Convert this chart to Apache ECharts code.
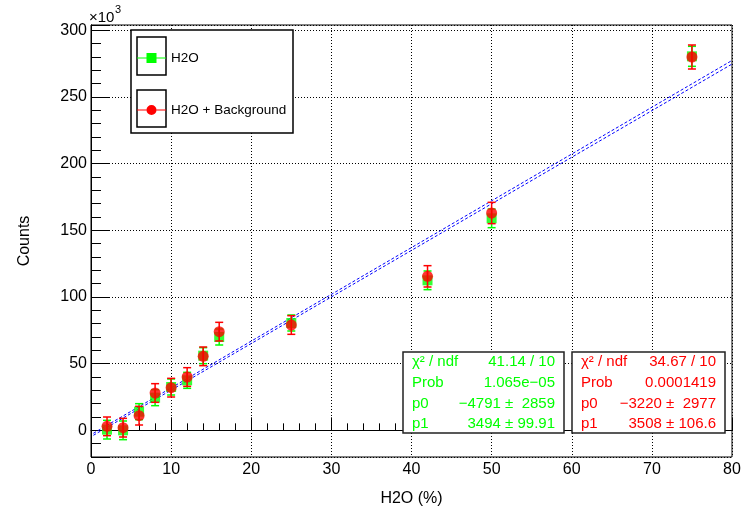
<!DOCTYPE html>
<html>
<head>
<meta charset="utf-8">
<script src="https://cdn.jsdelivr.net/npm/echarts@6/dist/echarts.min.js"></script>
<style>
  html, body { margin: 0; padding: 0; background: #fff; }
  #chart { width: 755px; height: 516px; }
</style>
</head>
<body>
<div id="chart"></div>
<script>
  // values (counts in units of 10^3)
  var waterPct = [2, 4, 6, 8, 10, 12, 14, 16, 25, 42, 50, 75];
  var h2oCounts = [0.5, 0, 14, 24.5, 32.5, 37.5, 56, 70, 80.5, 112.5, 159, 280.5];
  var h2oErr = [7, 7, 6, 6, 6, 6, 6, 6, 6, 7, 7, 7.5];
  var bgCounts = [3, 2, 11, 28, 32, 40, 55.5, 74, 79, 115.5, 163, 280];
  var bgErr = [7, 7, 7, 7, 7, 7, 7, 7, 7, 8, 8, 9];

  // fit lines, endpoints
  var fitX = [0.3, 80];
  var h2oFitY = [-3.7, 274.7];
  var bgFitY = [-2.2, 277.4];

  var yMajorTicks = [0, 50, 100, 150, 200, 250, 300];

  var h2oStats = [['χ² / ndf', '41.14 / 10'], ['Prob', '1.065e−05'],
                  ['p0', '−4791 ±  2859'], ['p1', '3494 ± 99.91']];
  var bgStats = [['χ² / ndf', '34.67 / 10'], ['Prob', '0.0001419'],
                 ['p0', '−3220 ±  2977'], ['p1', '3508 ± 106.6']];

  var FONT = '"Liberation Sans", Arial, Helvetica, sans-serif';
  var GREEN = '#00ff00';
  var RED = '#ff0000';

  function zip3(xs, ys, es) {
    return xs.map(function (x, i) { return [x, ys[i], es[i]]; });
  }

  function errBars(color) {
    return function (params, api) {
      var x = api.value(0), y = api.value(1), e = api.value(2);
      var top = api.coord([x, y + e]);
      var bot = api.coord([x, y - e]);
      var c = 4;
      var st = { stroke: color, lineWidth: 1.5 };
      return {
        type: 'group',
        children: [
          { type: 'line', shape: { x1: top[0], y1: top[1], x2: bot[0], y2: bot[1] }, style: st },
          { type: 'line', shape: { x1: top[0] - c, y1: top[1], x2: top[0] + c, y2: top[1] }, style: st },
          { type: 'line', shape: { x1: bot[0] - c, y1: bot[1], x2: bot[0] + c, y2: bot[1] }, style: st }
        ]
      };
    };
  }

  function statBox(x, w, rows, color) {
    var els = [{
      type: 'rect', z: 10,
      shape: { x: x, y: 352, width: w, height: 81 },
      style: { fill: '#fff', stroke: '#222', lineWidth: 1.5 }
    }];
    rows.forEach(function (r, i) {
      var y = 362 + i * 20.7;
      els.push({ type: 'text', z: 11, style: { text: r[0], x: x + 9, y: y, fill: color, font: '15px ' + FONT, align: 'left', verticalAlign: 'middle' } });
      els.push({ type: 'text', z: 11, style: { text: r[1], x: x + w - 9, y: y, fill: color, font: '15px ' + FONT, align: 'right', verticalAlign: 'middle' } });
    });
    return els;
  }

  var chart = echarts.init(document.getElementById('chart'));

  var graphics = [
    { type: 'rect', z: 3, shape: { x: 131, y: 30, width: 162, height: 103 },
      style: { fill: '#fff', stroke: '#000', lineWidth: 1.5 } },
    { type: 'rect', z: 3, shape: { x: 137, y: 37, width: 29, height: 38 },
      style: { fill: 'none', stroke: '#000', lineWidth: 1.5 } },
    { type: 'rect', z: 3, shape: { x: 137, y: 90, width: 29, height: 37 },
      style: { fill: 'none', stroke: '#000', lineWidth: 1.5 } },
    { type: 'text', z: 3, style: { text: '×10', x: 89, y: 18, fill: '#000', font: '15px ' + FONT, align: 'left', verticalAlign: 'middle' } },
    { type: 'text', z: 3, style: { text: '3', x: 115, y: 10, fill: '#000', font: '11px ' + FONT, align: 'left', verticalAlign: 'middle' } }
  ].concat(statBox(403, 161, h2oStats, GREEN), statBox(572, 153, bgStats, RED));

  chart.setOption({
    backgroundColor: '#fff',
    animation: false,
    textStyle: { fontFamily: FONT },
    grid: { left: 91, right: 23, top: 25, bottom: 59, show: true, borderColor: '#000', borderWidth: 1 },
    legend: {
      orient: 'vertical',
      left: 137,
      top: 51,
      padding: 0,
      itemWidth: 29,
      itemHeight: 10,
      itemGap: 38,
      textStyle: { color: '#000', fontSize: 13.5, fontFamily: FONT },
      data: [
        { name: 'H2O', icon: 'path://M0,4.5h9.5v1h-9.5z M19.5,4.5h9.5v1h-9.5z M9.5,0h10v10h-10z', itemStyle: { color: GREEN } },
        { name: 'H2O + Background', icon: 'path://M0,4.5h9.5v1h-9.5z M19.5,4.5h9.5v1h-9.5z M19.5,5A5,5 0 1 1 9.5,5A5,5 0 1 1 19.5,5z', itemStyle: { color: RED } }
      ]
    },
    xAxis: {
      type: 'value',
      min: 0,
      max: 80,
      interval: 10,
      name: 'H2O (%)',
      nameLocation: 'middle',
      nameGap: 34,
      nameTextStyle: { color: '#000', fontSize: 16, fontFamily: FONT },
      axisLine: { show: true, lineStyle: { color: '#000', width: 1 } },
      axisTick: { show: true, inside: true, length: 13, lineStyle: { color: '#000' } },
      minorTick: { show: true, splitNumber: 5, length: 7, lineStyle: { color: '#000' } },
      splitLine: { show: true, lineStyle: { color: '#000', type: [1, 2], width: 1 } },
      axisLabel: { color: '#000', fontSize: 16, margin: 5, fontFamily: FONT, showMinLabel: true, showMaxLabel: true }
    },
    yAxis: [{
      // major ticks, labels and grid lines (nice ticks every 50)
      type: 'value',
      min: -20,
      max: 304,
      name: 'Counts',
      nameLocation: 'middle',
      nameRotate: 90,
      nameGap: 58,
      nameTextStyle: { color: '#000', fontSize: 16, fontFamily: FONT },
      axisLine: { show: true, lineStyle: { color: '#000', width: 1 } },
      axisTick: { show: true, inside: true, length: 19, lineStyle: { color: '#000' } },
      splitLine: { show: true, lineStyle: { color: '#000', type: [1, 2], width: 1 } },
      axisLabel: { color: '#000', fontSize: 16, margin: 4, fontFamily: FONT, customValues: yMajorTicks }
    }, {
      // minor ticks every 10
      type: 'value',
      position: 'left',
      offset: 0,
      min: -20,
      max: 304,
      interval: 10,
      axisLine: { show: true, lineStyle: { color: '#000', width: 1 } },
      axisLabel: { show: false },
      splitLine: { show: false },
      axisTick: { show: true, inside: true, length: 10, lineStyle: { color: '#000' } }
    }],
    graphic: graphics,
    series: [
      {
        name: 'fitH2O', type: 'line', showSymbol: false, silent: true, z: 1,
        data: [[fitX[0], h2oFitY[0]], [fitX[1], h2oFitY[1]]],
        lineStyle: { color: '#0000ff', width: 1, type: [3, 2] }
      },
      {
        name: 'fitBg', type: 'line', showSymbol: false, silent: true, z: 1,
        data: [[fitX[0], bgFitY[0]], [fitX[1], bgFitY[1]]],
        lineStyle: { color: '#0000ff', width: 1, type: [3, 2] }
      },
      {
        name: 'H2O', type: 'custom', z: 2,
        itemStyle: { color: GREEN },
        renderItem: errBars(GREEN),
        data: zip3(waterPct, h2oCounts, h2oErr)
      },
      {
        name: 'H2O', type: 'scatter', symbol: 'rect', symbolSize: 10, z: 3,
        itemStyle: { color: GREEN },
        data: waterPct.map(function (x, i) { return [x, h2oCounts[i]]; })
      },
      {
        name: 'H2O + Background', type: 'custom', z: 4,
        itemStyle: { color: RED },
        renderItem: errBars(RED),
        data: zip3(waterPct, bgCounts, bgErr)
      },
      {
        name: 'H2O + Background', type: 'scatter', symbol: 'circle', symbolSize: 11, z: 5,
        itemStyle: { color: RED },
        data: waterPct.map(function (x, i) { return [x, bgCounts[i]]; })
      }
    ]
  });
</script>
</body>
</html>
